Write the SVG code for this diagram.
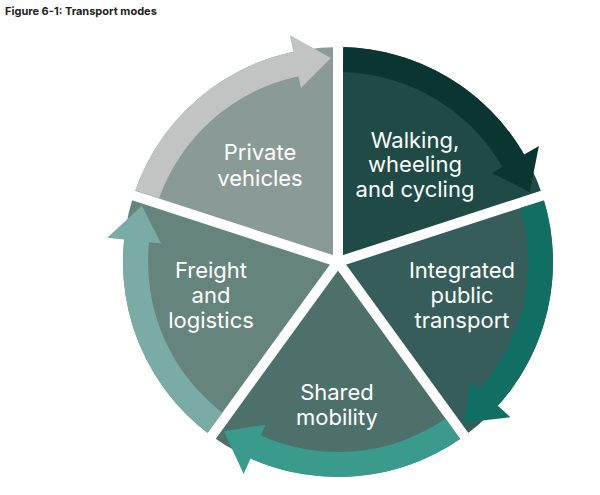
<svg xmlns="http://www.w3.org/2000/svg" width="600" height="495" viewBox="0 0 600 495">
<style>
text{font-family:Inter,"Liberation Sans",sans-serif;fill:#fff;font-size:22px;text-anchor:middle}
.t{fill:#222;font-size:11px;font-weight:bold;text-anchor:start}
.sp{stroke:#fff;stroke-width:10}
</style>
<defs>
<path id="w" d="M338,262 L338,47 A215,215 0 0 1 542.5,195.6 Z"/>
<path id="a" d="M343.6,47.1 A215,215 0 0 1 524.2,154.5 L538.9,146 L529.7,192.2 L492.1,173 L502.5,167 A190,190 0 0 0 343,72.1 Z"/>
</defs>
<rect width="600" height="495" fill="#fff"/>
<text class="t" x="5" y="15">Figure 6-1: Transport modes</text>
<g id="walking"><use href="#w" fill="#1f4a45"/></g>
<g id="integrated"><use href="#w" fill="#365d59" transform="rotate(72 338 262)"/></g>
<g id="shared"><use href="#w" fill="#4e706b" transform="rotate(144 338 262)"/></g>
<g id="freight"><use href="#w" fill="#66847e" transform="rotate(216 338 262)"/></g>
<g id="private"><use href="#w" fill="#8a9a96" transform="rotate(288 338 262)"/></g>
<g id="spokes" class="sp">
<line x1="338" y1="262" x2="338" y2="30" transform="rotate(0 338 262)"/>
<line x1="338" y1="262" x2="338" y2="30" transform="rotate(72 338 262)"/>
<line x1="338" y1="262" x2="338" y2="30" transform="rotate(144 338 262)"/>
<line x1="338" y1="262" x2="338" y2="30" transform="rotate(216 338 262)"/>
<line x1="338" y1="262" x2="338" y2="30" transform="rotate(288 338 262)"/>
</g>
<g id="connectors">
<use href="#a" fill="#0b3530"/>
<use href="#a" fill="#106e63" transform="rotate(72 338 262)"/>
<use href="#a" fill="#3a9a8c" transform="rotate(144 338 262)"/>
<use href="#a" fill="#7aaba4" transform="rotate(216 338 262)"/>
<use href="#a" fill="#c2c4c3" transform="rotate(288 338 262)"/>
</g>
<g id="labels">
<text x="415" y="148">Walking,</text><text x="415" y="172">wheeling</text><text x="415" y="197">and cycling</text>
<text x="462" y="278">Integrated</text><text x="462" y="303">public</text><text x="462" y="328">transport</text>
<text x="337" y="400">Shared</text><text x="337" y="425">mobility</text>
<text x="211" y="278">Freight</text><text x="211" y="303">and</text><text x="211" y="328">logistics</text>
<text x="260" y="160">Private</text><text x="260" y="186">vehicles</text>
</g>
</svg>
